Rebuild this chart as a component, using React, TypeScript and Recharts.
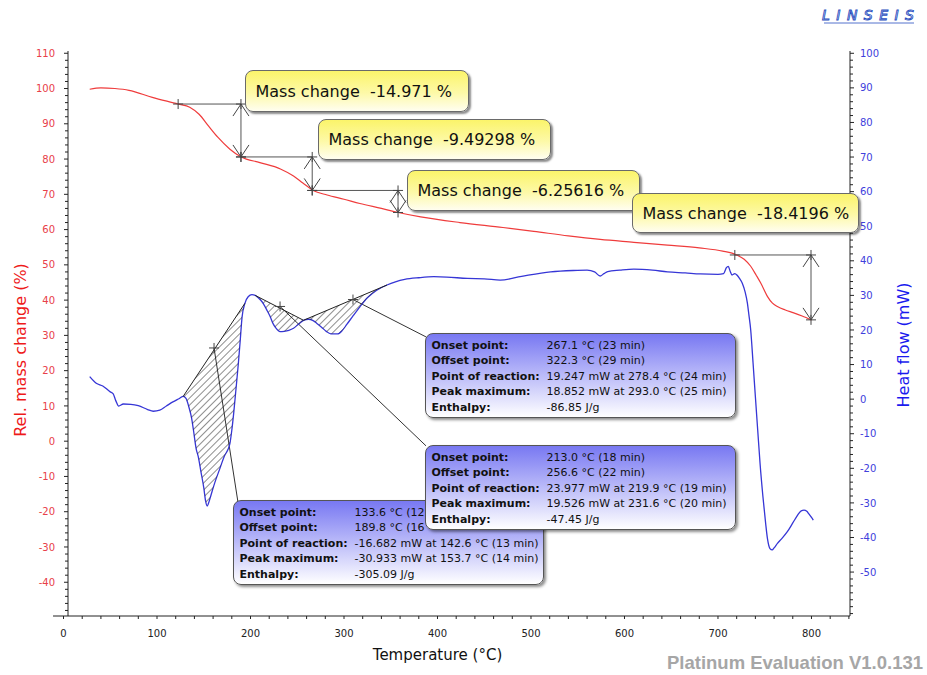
import React from 'react';
import { ComposedChart, Line, Scatter, XAxis, YAxis, ReferenceLine } from 'recharts';

// ---------- data ----------
const MASS_T = [28, 40, 55, 70, 95, 122.6, 135, 145, 155, 165, 178, 190, 210, 232, 246, 256, 267, 282, 300, 317, 340, 358, 382, 424, 470, 503, 540, 574, 610, 646, 680, 705, 720, 728, 735, 741, 746, 753, 758, 764, 772, 781, 790, 800];
const MASS_V = [99.8, 100.2, 100.0, 99.5, 97.5, 95.6, 94.7, 92.7, 89.4, 86.2, 82.8, 80.6, 79.0, 77.2, 75.2, 73.2, 71.1, 69.8, 68.6, 67.4, 66.0, 64.85, 63.6, 62.0, 60.6, 59.5, 58.2, 57.2, 56.4, 55.6, 54.8, 53.9, 52.8, 51.6, 49.6, 47.0, 44.7, 41.0, 39.2, 38.1, 37.2, 36.4, 35.5, 34.4];

const HEAT_T = [28, 35, 42, 50, 53, 56, 59, 64, 72, 80, 90, 96, 103, 110, 117, 124, 128, 131, 134, 137, 139, 142, 144, 147, 150, 152, 153.7, 155, 158, 162, 167.6, 172, 176, 178, 180, 182, 184.5, 187, 189, 191, 194, 197.5, 201.5, 205, 208, 211, 214, 218, 221, 224, 227, 231.6, 236, 241, 246, 251, 256.7, 262, 267, 271, 276, 281, 286, 293, 298, 303, 310, 317, 325, 335, 346, 355, 365, 380, 396, 410, 432, 450, 467, 490, 521, 545, 560, 568, 574, 578, 582, 595, 610, 630, 646, 665, 681, 700, 706, 709, 711, 713, 715, 718, 720.5, 723, 726, 729, 731.5, 733, 735, 737.5, 740, 742.5, 745, 748, 751, 753, 755.6, 758, 760, 763.6, 768, 774, 780, 785, 789, 792, 795, 797, 800, 802];
const HEAT_V = [6.5, 4.6, 3.8, 2.1, 1.6, -0.5, -2.0, -1.4, -1.5, -1.9, -3.0, -3.5, -3.2, -2.0, -0.8, 0.2, 0.8, 0.2, -2.2, -5.5, -9.0, -14.5, -16.5, -21.0, -25.6, -29.5, -30.9, -30.2, -27.5, -24.0, -19.8, -16.5, -14.5, -12.8, -9.0, -4.1, 3.0, 10.3, 17.0, 23.8, 27.7, 29.6, 30.2, 30.0, 29.4, 28.6, 27.5, 25.5, 23.9, 21.9, 20.6, 19.5, 19.6, 19.9, 20.5, 21.6, 22.8, 23.1, 22.7, 21.9, 20.8, 19.6, 18.9, 18.85, 19.8, 21.6, 24.2, 26.7, 29.3, 31.5, 33.0, 33.9, 34.6, 35.1, 35.4, 35.3, 34.9, 34.8, 34.4, 35.5, 36.8, 37.2, 37.3, 36.8, 35.6, 36.3, 36.9, 37.3, 37.6, 37.3, 36.8, 36.5, 36.2, 36.1, 36.3, 38.0, 38.4, 37.0, 35.9, 36.3, 35.8, 34.9, 33.5, 31.0, 27.7, 24.5, 20.0, 10.5, 0.7, -9.0, -18.6, -28.0, -36.0, -40.5, -43.2, -43.6, -43.0, -41.7, -40.4, -38.4, -35.8, -33.6, -32.3, -32.1, -32.4, -33.1, -34.2, -35.0];

// peak integration ranges (start / end temperature of each baseline chord)
const PEAK_RANGES = [[128, 194], [205, 256.7], [256.7, 346]];
// "+" markers on the baselines
const PEAK_MARK_T = [161, 231.6, 309.6];
const PEAK_MARK_H = [14.8, 26.8, 28.8];
// leader line ends (at the info boxes), in data units
const LEADER_END_T = [187, 387.7, 387.7];
const LEADER_END_H = [-30.5, -13.5, 18.0];

// mass-change steps: onset temperature, end temperature, upper level, lower level
const STEP_T0 = [122.6, 189.8, 266, 718];
const STEP_T1 = [189.8, 266, 357.8, 799.5];
const STEP_TOP = [95.6, 80.6, 71.1, 52.8];
const STEP_BOT = [80.6, 71.1, 64.85, 34.4];
const MASS_CHANGES = ['-14.971', '-9.49298', '-6.25616', '-18.4196'];

const INFO_LABELS = ['Onset point:', 'Offset point:', 'Point of reaction:', 'Peak maximum:', 'Enthalpy:'];
// first box: the ends of the first two values are hidden behind the second box in the reference
const INFO_1 = ['133.6 °C (12', '189.8 °C (16', '-16.682 mW at 142.6 °C (13 min)', '-30.933 mW at 153.7 °C (14 min)', '-305.09 J/g'];
const INFO_2 = ['213.0 °C (18 min)', '256.6 °C (22 min)', '23.977 mW at 219.9 °C (19 min)', '19.526 mW at 231.6 °C (20 min)', '-47.45 J/g'];
const INFO_3 = ['267.1 °C (23 min)', '322.3 °C (29 min)', '19.247 mW at 278.4 °C (24 min)', '18.852 mW at 293.0 °C (25 min)', '-86.85 J/g'];

const X_LABELS = [0, 100, 200, 300, 400, 500, 600, 700, 800];
const LEFT_LABELS = [-40, -30, -20, -10, 0, 10, 20, 30, 40, 50, 60, 70, 80, 90, 100, 110];
const RIGHT_LABELS = [-50, -40, -30, -20, -10, 0, 10, 20, 30, 40, 50, 60, 70, 80, 90, 100];

// ---------- derived tables ----------
const range = (a: number, b: number, s: number) =>
  Array.from({ length: Math.round((b - a) / s) + 1 }, (_, i) => a + i * s);
const X_TICKS = range(0, 840, 20);
const LEFT_TICKS = range(-48, 110, 2);
const RIGHT_TICKS = range(-62, 100, 2);

const MASS = MASS_T.map((t, i) => ({ t, m: MASS_V[i] }));
const HEAT = HEAT_T.map((t, i) => ({ t, h: HEAT_V[i] }));
const PEAKS = PEAK_RANGES.map(([a, b]) => HEAT.filter((r) => r.t >= a && r.t <= b));
const PEAK_MARKS = PEAK_MARK_T.map((t, i) => ({ t, h: PEAK_MARK_H[i], kind: 'plus' }));
const STEP_MARKS = STEP_T0.flatMap((t0, i) => [
  { t: t0, m: STEP_TOP[i], kind: 'plus' },
  { t: STEP_T1[i], m: STEP_TOP[i], kind: 'top' },
  { t: STEP_T1[i], m: STEP_BOT[i], kind: 'bottom' },
]);

// ---------- style ----------
const W = 927;
const H = 675;
const PLOT = { left: 68, right: 850, top: 51, bottom: 616 };
const FONT = "'DejaVu Sans', Verdana, sans-serif";
const RED_TICK = '#e8404a';
const RED_TITLE = '#ee1a1a';
const BLUE_TICK = '#4040dc';
const BLUE_TITLE = '#1a1aee';
const MASS_COLOR = '#ef3c3c';
const HEAT_COLOR = '#3636d6';
const MARK = '#444';

const XTick = (p: any) => {
  const { x, y, payload } = p;
  const v = payload.value;
  return (
    <g>
      <line x1={x} x2={x} y1={y} y2={y + 3} stroke="#222" />
      {X_LABELS.includes(v) && (
        <text x={x} y={y + 20.5} textAnchor="middle" fontSize={10} fill="#222" fontFamily={FONT}>{v}</text>
      )}
    </g>
  );
};
const LeftTick = (p: any) => {
  const { x, y, payload } = p;
  const v = payload.value;
  const major = LEFT_LABELS.includes(v);
  return (
    <g>
      <line x1={x - (major ? 4 : 3)} x2={x} y1={y} y2={y} stroke="#222" />
      {major && (
        <text x={x - 13} y={y + 3.6} textAnchor="end" fontSize={10} fill={RED_TICK} fontFamily={FONT}>{v}</text>
      )}
    </g>
  );
};
const RightTick = (p: any) => {
  const { x, y, payload } = p;
  const v = payload.value;
  const major = RIGHT_LABELS.includes(v);
  return (
    <g>
      <line x1={x} x2={x + (major ? 4 : 3)} y1={y} y2={y} stroke="#222" />
      {major && (
        <text x={x + 10} y={y + 3.6} textAnchor="start" fontSize={10} fill={BLUE_TICK} fontFamily={FONT}>{v}</text>
      )}
    </g>
  );
};

const MarkShape = (p: any) => {
  const { cx, cy, payload } = p;
  const k = payload.kind;
  const plus = (
    <g>
      <line x1={cx - 5} x2={cx + 5} y1={cy} y2={cy} stroke={MARK} />
      <line x1={cx} x2={cx} y1={cy - 5} y2={cy + 5} stroke={MARK} />
    </g>
  );
  if (k === 'plus') return plus;
  const d = k === 'top' ? 12 : -12;
  return (
    <g>
      {plus}
      <line x1={cx} y1={cy} x2={cx - 8} y2={cy + d} stroke={MARK} />
      <line x1={cx} y1={cy} x2={cx + 8} y2={cy + d} stroke={MARK} />
    </g>
  );
};

const hatchLine = (id: string) => (p: any) => {
  const pts = p.points || [];
  if (pts.length < 2) return <g />;
  const d = pts.map((q: any, i: number) => `${i ? 'L' : 'M'}${q.x},${q.y}`).join(' ') + ' Z';
  const a = pts[0];
  const b = pts[pts.length - 1];
  return (
    <g>
      <defs>
        <pattern id={id} patternUnits="userSpaceOnUse" width={5} height={5} patternTransform="rotate(45)">
          <line x1={0} y1={0} x2={0} y2={5} stroke="#1e1e1e" strokeWidth={1} />
        </pattern>
      </defs>
      <path d={d} fill={`url(#${id})`} stroke="none" />
      <line x1={a.x} y1={a.y} x2={b.x} y2={b.y} stroke="#222" strokeWidth={1} />
    </g>
  );
};

const Empty = () => <g />;

const callouts = [
  { left: 245, top: 70, width: 224, height: 42 },
  { left: 318, top: 119, width: 233, height: 41 },
  { left: 407, top: 170, width: 233, height: 41 },
  { left: 632, top: 193, width: 227, height: 40 },
];

const Callout = ({ pos, value }: any) => (
  <div
    style={{
      position: 'absolute', left: pos.left, top: pos.top, width: pos.width, height: pos.height,
      boxSizing: 'border-box', border: '1.5px solid #6a6a6a', borderRadius: 8,
      background: 'linear-gradient(to bottom, #fbf46a 0%, #fdf9a8 55%, #fffef0 100%)',
      boxShadow: '2px 2px 2px rgba(0,0,0,0.45)', fontFamily: FONT, fontSize: 16, color: '#111',
      display: 'flex', alignItems: 'center', paddingLeft: 9.5, whiteSpace: 'pre',
    }}
  >
    {`Mass change  ${value} %`}
  </div>
);

const InfoBox = ({ left, top, values }: any) => (
  <div
    style={{
      position: 'absolute', left, top, width: 311, height: 85, boxSizing: 'border-box',
      border: '1.5px solid #555', borderRadius: 8,
      background: 'linear-gradient(to bottom, #7878f2 0%, #b4b4f8 45%, #ffffff 100%)',
      boxShadow: '2px 2px 3px rgba(0,0,0,0.45)', fontFamily: FONT, fontSize: 11, color: '#111',
      padding: '3.5px 0 0 5.5px', whiteSpace: 'pre',
    }}
  >
    {INFO_LABELS.map((lab, i) => (
      <div key={lab} style={{ display: 'flex', height: 15.5, lineHeight: '15.5px' }}>
        <span style={{ width: 115, fontWeight: 'bold' }}>{lab}</span>
        <span>{values[i]}</span>
      </div>
    ))}
  </div>
);

export default function App() {
  const LW = 50;
  const RW = 50;
  const XH = 30;
  return (
    <div style={{ position: 'absolute', left: 0, top: 0, width: W, height: H, background: '#fff', overflow: 'hidden' }}>
      <ComposedChart
        width={W}
        height={H}
        margin={{ top: PLOT.top, right: W - PLOT.right - RW, bottom: H - PLOT.bottom - XH, left: PLOT.left - LW }}
      >
        <XAxis
          dataKey="t" type="number" domain={[4.8, 841.2]} allowDataOverflow ticks={X_TICKS} interval={0}
          tickSize={0} tickMargin={0} tickLine={false} tick={(p: any) => <XTick {...p} />}
          axisLine={{ stroke: '#222' }} height={XH}
          label={{
            content: () => (
              <text x={437.5} y={655} textAnchor="middle" dominantBaseline="central" fontSize={15} fill="#111" fontFamily={FONT}>
                Temperature (°C)
              </text>
            ),
          }}
        />
        <YAxis
          yAxisId="left" orientation="left" type="number" domain={[-49.57, 110.64]} allowDataOverflow
          ticks={LEFT_TICKS} interval={0} tickSize={0} tickMargin={0} tickLine={false}
          tick={(p: any) => <LeftTick {...p} />} axisLine={{ stroke: '#222' }} width={LW}
          label={{
            content: () => (
              <text x={20} y={350} textAnchor="middle" dominantBaseline="central" transform="rotate(-90, 20, 350)" fontSize={16} fill={RED_TITLE} fontFamily={FONT}>
                Rel. mass change (%)
              </text>
            ),
          }}
        />
        <YAxis
          yAxisId="right" orientation="right" type="number" domain={[-62.7, 100.66]} allowDataOverflow
          ticks={RIGHT_TICKS} interval={0} tickSize={0} tickMargin={0} tickLine={false}
          tick={(p: any) => <RightTick {...p} />} axisLine={{ stroke: '#222' }} width={RW}
          label={{
            content: () => (
              <text x={903} y={345} textAnchor="middle" dominantBaseline="central" transform="rotate(-90, 903, 345)" fontSize={16} fill={BLUE_TITLE} fontFamily={FONT}>
                Heat flow (mW)
              </text>
            ),
          }}
        />

        <ReferenceLine
          yAxisId="left" ifOverflow="visible" stroke="#222"
          segment={[{ x: -11.2, y: -49.57 }, { x: 4.8, y: -49.57 }]}
        />

        {PEAKS.map((pk, i) => (
          <Scatter
            key={`peak${i}`} data={pk} dataKey="h" yAxisId="right" isAnimationActive={false}
            shape={Empty} line={hatchLine(`hatch${i}`)} lineType="joint"
          />
        ))}

        {PEAK_MARKS.map((m, i) => (
          <ReferenceLine
            key={`lead${i}`} yAxisId="right" stroke="#333" strokeWidth={1}
            segment={[{ x: m.t, y: m.h }, { x: LEADER_END_T[i], y: LEADER_END_H[i] }]}
          />
        ))}

        {STEP_T0.map((t0, i) => (
          <ReferenceLine
            key={`h${i}`} yAxisId="left" stroke="#555"
            segment={[{ x: t0, y: STEP_TOP[i] }, { x: STEP_T1[i], y: STEP_TOP[i] }]}
          />
        ))}
        {STEP_T1.map((t1, i) => (
          <ReferenceLine
            key={`v${i}`} yAxisId="left" stroke="#555"
            segment={[{ x: t1, y: STEP_TOP[i] }, { x: t1, y: STEP_BOT[i] }]}
          />
        ))}

        <Line
          data={MASS} dataKey="m" yAxisId="left" type="monotone" stroke={MASS_COLOR} strokeWidth={1.2}
          dot={false} activeDot={false} isAnimationActive={false}
        />
        <Line
          data={HEAT} dataKey="h" yAxisId="right" type="monotone" stroke={HEAT_COLOR} strokeWidth={1.3}
          dot={false} activeDot={false} isAnimationActive={false}
        />

        <Scatter data={STEP_MARKS} dataKey="m" yAxisId="left" shape={MarkShape} isAnimationActive={false} />
        <Scatter data={PEAK_MARKS} dataKey="h" yAxisId="right" shape={MarkShape} isAnimationActive={false} />
      </ComposedChart>

      {callouts.map((pos, i) => (
        <Callout key={i} pos={pos} value={MASS_CHANGES[i]} />
      ))}
      <InfoBox left={233} top={500} values={INFO_1} />
      <InfoBox left={425} top={333} values={INFO_3} />
      <InfoBox left={425} top={445} values={INFO_2} />

      <div
        style={{
          position: 'absolute', right: 4, top: 651, fontFamily: "'Liberation Sans', Arial, sans-serif",
          fontWeight: 'bold', fontSize: 18.5, color: '#a6a6a6', whiteSpace: 'pre', lineHeight: '24px',
        }}
      >
        Platinum Evaluation V1.0.131
      </div>
      <svg style={{ position: 'absolute', left: 818, top: 4 }} width={105} height={22}>
        <text
          x={4} y={16} fontFamily="'DejaVu Sans', sans-serif" fontStyle="italic" fontSize={14}
          fill="#fff" stroke="#2a4fc0" strokeWidth={0.9} textLength={92} lengthAdjust="spacing"
        >
          LINSEIS
        </text>
        <line x1={6} x2={96} y1={19} y2={19} stroke="#2a4fc0" strokeWidth={0.8} />
      </svg>
    </div>
  );
}
